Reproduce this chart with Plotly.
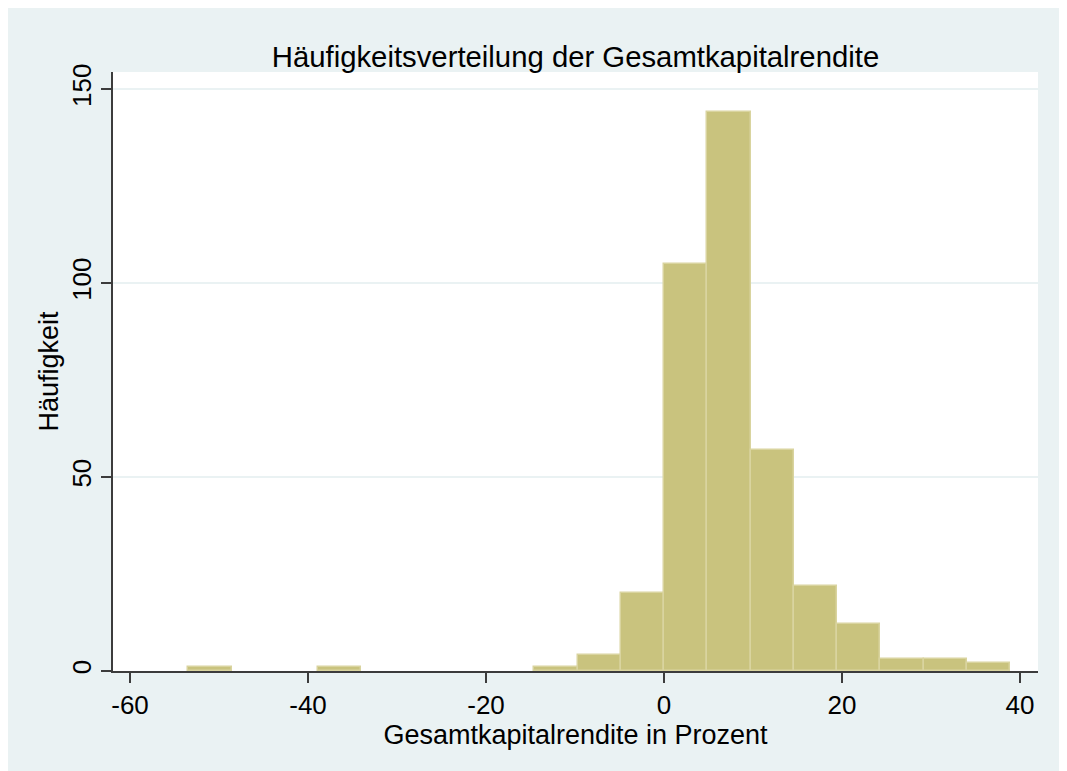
import plotly.graph_objects as go

# Data
bin_start = -53.45
bin_width = 4.86
counts = [1, 0, 0, 1, 0, 0, 0, 0, 1, 4, 20, 105, 144, 57, 22, 12, 3, 3, 2]
x_ticks = [-60, -40, -20, 0, 20, 40]
y_ticks = [0, 50, 100, 150]

xs, ys = [], []
for i, c in enumerate(counts):
    if c > 0:
        xs.append(bin_start + bin_width * (i + 0.5))
        ys.append(c)

BG = "#EAF2F3"
FONT = "Liberation Sans, Arial, sans-serif"
AX = "#3C3C3C"

fig = go.Figure()
fig.add_trace(go.Bar(
    x=xs, y=ys, width=[bin_width] * len(xs),
    marker=dict(color="#C9C37E", line=dict(color="#D9D49F", width=1.5)),
    hoverinfo="x+y",
))

fig.update_layout(
    width=1067, height=771,
    margin=dict(l=105, r=37, t=64, b=108),
    paper_bgcolor=BG, plot_bgcolor="white",
    bargap=0, showlegend=False,
    font=dict(family=FONT, color="black", size=26),
    title=dict(text="Häufigkeitsverteilung der Gesamtkapitalrendite",
               x=0.5, xref="paper", y=1 - 49 / 771, yanchor="middle",
               font=dict(size=29.3, family=FONT, color="black")),
    xaxis=dict(range=[-61.91, 42.02], tickvals=x_ticks,
               ticktext=[str(v) for v in x_ticks], ticks="outside",
               ticklen=10, tickcolor=AX, tickwidth=1.5, showline=True,
               linecolor=AX, linewidth=1.5, showgrid=False,
               zeroline=False, tickfont=dict(size=26),
               title=dict(text="Gesamtkapitalrendite in Prozent", standoff=0,
                          font=dict(size=27))),
    yaxis=dict(range=[0, 154.4], tickvals=y_ticks,
               ticktext=[str(v) for v in y_ticks], ticks="outside",
               ticklen=10, tickcolor=AX, tickwidth=1.5, showline=True,
               linecolor=AX, linewidth=1.5, showgrid=True,
               gridcolor=BG, gridwidth=2, zeroline=False, tickangle=-90,
               tickfont=dict(size=26),
               title=dict(text="Häufigkeit", standoff=0,
                          font=dict(size=27))),
)

fig.write_html("out.html")
